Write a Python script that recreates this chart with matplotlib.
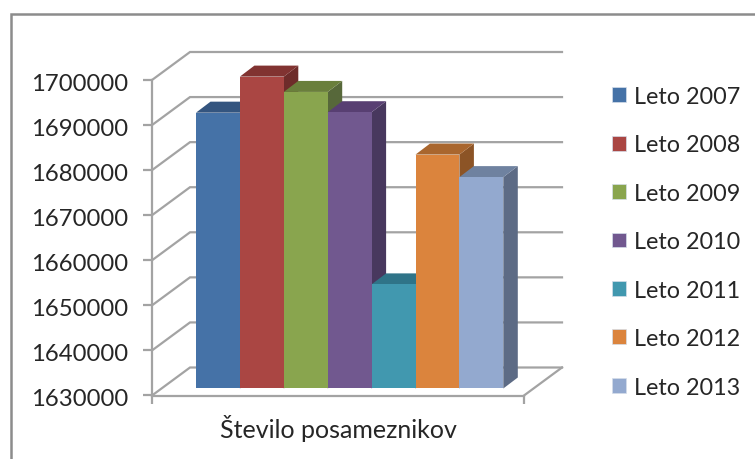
import matplotlib
matplotlib.use("Agg")
import matplotlib.pyplot as plt
from matplotlib.lines import Line2D
from matplotlib.patches import Patch, Polygon
from matplotlib.transforms import ScaledTranslation

plt.rcParams['font.family'] = ['Lato', 'DejaVu Sans']

# Podatki
leta = ['Leto 2007', 'Leto 2008', 'Leto 2009', 'Leto 2010', 'Leto 2011', 'Leto 2012', 'Leto 2013']
posamezniki = [1691200, 1699200, 1695800, 1691300, 1653100, 1681900, 1676900]
y_ticks = [1630000, 1640000, 1650000, 1660000, 1670000, 1680000, 1690000, 1700000]
kategorija = 'Število posameznikov'

barve = ['#4572A7', '#AA4643', '#89A54E', '#71588F', '#4198AF', '#DB843D', '#93A9CF']
barve_zgoraj = ['#34557F', '#813331', '#6A7F3C', '#583F72', '#2F7488', '#A9662E', '#6F82A0']
barve_stran = ['#2C4768', '#6E2C2A', '#57683A', '#48385E', '#275F70', '#8C5426', '#5D6B85']
SIVA = '#A3A3A3'

W, H = 755, 460
fig = plt.figure(figsize=(W / 100, H / 100), dpi=100, facecolor='white')

# os je postavljena na sprednji rob "3D" skatle, v pikslih
left, right, bottom, top = 152, 524, 396.5, 81
ax = fig.add_axes([left / W, 1 - bottom / H, (right - left) / W, (bottom - top) / H])
ax.set_xlim(0, 1)
ax.set_ylim(y_ticks[0], y_ticks[-1])
ax.patch.set_alpha(0)

px_x = 1 / (right - left)
px_y = (y_ticks[-1] - y_ticks[0]) / (bottom - top)

# globina skatle
wall_dx, wall_dy = 38 * px_x, 28 * px_y

# mreza: posevni del in zadnja stena
for v in y_ticks:
    ax.plot([0, wall_dx, 1 + wall_dx], [v, v + wall_dy, v + wall_dy],
            color=SIVA, lw=1.6, clip_on=False, zorder=1, solid_joinstyle='miter')
ax.plot([1, 1 + wall_dx], [y_ticks[0], y_ticks[0] + wall_dy],
        color=SIVA, lw=1.6, clip_on=False, zorder=1)

# stolpci
bar_x0 = 44 * px_x
bar_w = 43.9 * px_x
base_shift = 7 * px_y
bar_dx, bar_dy = 14.5 * px_x, 11 * px_y

for i, v in enumerate(posamezniki):
    x0 = bar_x0 + i * bar_w
    x1 = x0 + bar_w
    y0 = y_ticks[0] + base_shift
    y1 = v + base_shift
    stran = [(x1, y0), (x1 + bar_dx, y0 + bar_dy), (x1 + bar_dx, y1 + bar_dy), (x1, y1)]
    zgoraj = [(x0, y1), (x0 + bar_dx, y1 + bar_dy), (x1 + bar_dx, y1 + bar_dy), (x1, y1)]
    spredaj = [(x0, y0), (x0, y1), (x1, y1), (x1, y0)]
    for pts, c in [(stran, barve_stran[i]), (zgoraj, barve_zgoraj[i]), (spredaj, barve[i])]:
        ax.add_patch(Polygon(pts, closed=True, facecolor=c, edgecolor='none',
                             clip_on=False, zorder=2 + i))

# osi
for s in ['top', 'right']:
    ax.spines[s].set_visible(False)
for s in ['left', 'bottom']:
    ax.spines[s].set_color(SIVA)
    ax.spines[s].set_linewidth(1.6)
    ax.spines[s].set_zorder(20)

ax.set_yticks(y_ticks)
ax.set_yticklabels([str(t) for t in y_ticks])
ax.tick_params(axis='y', length=6.5, width=1.6, color=SIVA, labelsize=17.2,
               labelcolor='#262626', pad=10.5)
premik = ScaledTranslation(0, -1.5 / 100, fig.dpi_scale_trans)
for lab in ax.get_yticklabels():
    lab.set_transform(lab.get_transform() + premik)

ax.set_xticks([0.5])
ax.set_xticklabels([kategorija])
ax.tick_params(axis='x', length=0, labelsize=18, labelcolor='#262626', pad=13)
ax.set_xticks([0, 1], minor=True)
ax.tick_params(axis='x', which='minor', length=6, width=1.6, color=SIVA)

# legenda
handles = [Patch(facecolor=c, edgecolor='#D5DEEA', lw=0.5) for c in barve]
fig.legend(handles, leta, loc='upper left', bbox_to_anchor=(612 / W, 1 - 87 / H),
           frameon=False, fontsize=16.8, handlelength=0.6, handleheight=0.6,
           handletextpad=0.36, labelspacing=1.175, borderpad=0, borderaxespad=0,
           labelcolor='#262626')

# okvir grafikona
fig.add_artist(Line2D([10.5 / W, 10.5 / W, 1], [0, 1 - 14.5 / H, 1 - 14.5 / H],
                      color='#8C8C8C', lw=1.8, solid_joinstyle='miter'))

fig.savefig('out.png', dpi=100)
